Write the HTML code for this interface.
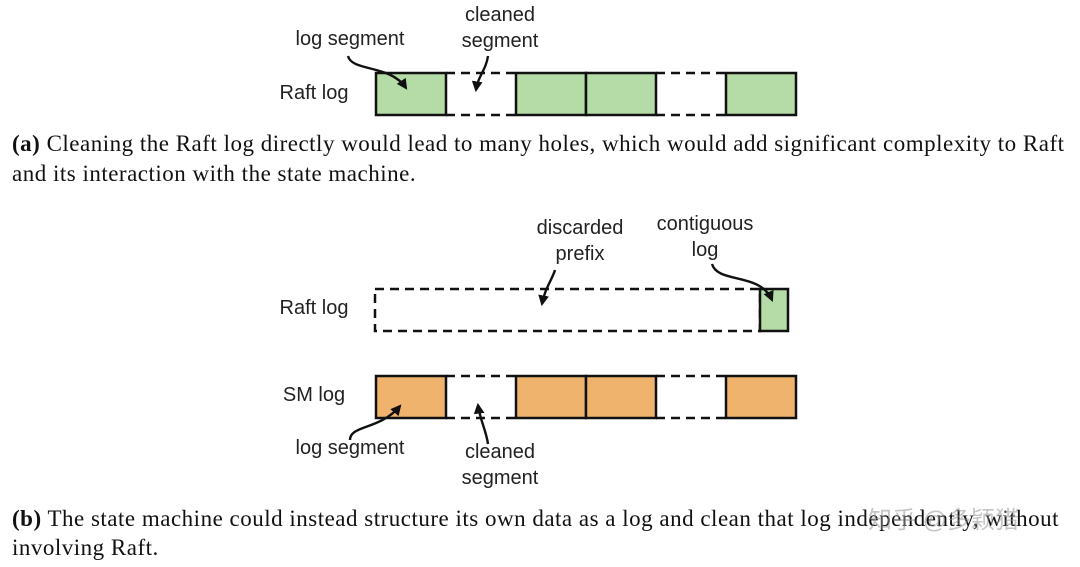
<!DOCTYPE html>
<html><head><meta charset="utf-8"><style>
body{margin:0;width:1080px;height:567px;background:#fff;overflow:hidden;position:relative}
.l{position:absolute;font-family:"Liberation Sans",sans-serif;font-size:20px;color:#222;text-align:center;line-height:26px}
.c{position:absolute;left:12px;font-family:"Liberation Serif",serif;font-size:23px;letter-spacing:0.5px;color:#111;line-height:30px;white-space:nowrap}
</style></head><body>
<svg width="1080" height="567" style="position:absolute;left:0;top:0">
<defs><marker id="a" viewBox="0 0 10 10" refX="8" refY="5" markerWidth="4.5" markerHeight="4.5" orient="auto"><path d="M0,0L10,5L0,10z" fill="#111"/></marker></defs>
<g stroke="#111" stroke-width="2.5">
<rect x="376" y="73" width="70" height="42" fill="#b5dba7"/>
<rect x="516" y="73" width="70" height="42" fill="#b5dba7"/>
<rect x="586" y="73" width="70" height="42" fill="#b5dba7"/>
<rect x="726" y="73" width="70" height="42" fill="#b5dba7"/>
<g stroke-dasharray="9,6"><line x1="446" y1="73" x2="516" y2="73"/><line x1="446" y1="115" x2="516" y2="115"/><line x1="656" y1="73" x2="726" y2="73"/><line x1="656" y1="115" x2="726" y2="115"/>
<rect x="375" y="289" width="385" height="42" fill="none"/>
<line x1="446" y1="376" x2="516" y2="376"/><line x1="446" y1="418" x2="516" y2="418"/><line x1="656" y1="376" x2="726" y2="376"/><line x1="656" y1="418" x2="726" y2="418"/></g>
<rect x="760" y="289" width="28" height="42" fill="#b5dba7"/>
<rect x="376" y="376" width="70" height="42" fill="#f0b36d"/>
<rect x="516" y="376" width="70" height="42" fill="#f0b36d"/>
<rect x="586" y="376" width="70" height="42" fill="#f0b36d"/>
<rect x="726" y="376" width="70" height="42" fill="#f0b36d"/>
</g>
<g stroke="#111" stroke-width="2.4" fill="none" marker-end="url(#a)">
<path d="M348,56 C352,72 390,64 406,88"/>
<path d="M488,56 C486,70 478,76 476,90"/>
<path d="M555,270 C552,280 545,288 542,304"/>
<path d="M712,264 C718,284 760,272 772,300"/>
<path d="M350,440 C350,425 380,430 400,406"/>
<path d="M488,444 C486,430 480,420 478,405"/>
</g>
</svg>
<div class="l" style="left:275px;top:26px;width:150px">log segment</div>
<div class="l" style="left:440px;top:2px;width:120px">cleaned<br>segment</div>
<div class="l" style="left:264px;top:80px;width:100px">Raft log</div>
<div class="l" style="left:515px;top:215px;width:130px">discarded<br>prefix</div>
<div class="l" style="left:635px;top:211px;width:140px">contiguous<br>log</div>
<div class="l" style="left:264px;top:295px;width:100px">Raft log</div>
<div class="l" style="left:264px;top:382px;width:100px">SM log</div>
<div class="l" style="left:275px;top:435px;width:150px">log segment</div>
<div class="l" style="left:440px;top:439px;width:120px">cleaned<br>segment</div>
<div class="c" style="top:129px"><b>(a)</b> Cleaning the Raft log directly would lead to many holes, which would add significant complexity to Raft</div>
<div class="c" style="top:159px">and its interaction with the state machine.</div>
<div class="c" style="top:504px"><b>(b)</b> The state machine could instead structure its own data as a log and clean that log independently, without</div>
<div class="c" style="top:533px">involving Raft.</div>
<div style="position:absolute;left:868px;top:500px;font-family:'Liberation Sans','Noto Sans CJK SC',sans-serif;font-size:24px;color:rgba(150,150,150,0.55)">知乎 @多颖猎</div>
</body></html>
